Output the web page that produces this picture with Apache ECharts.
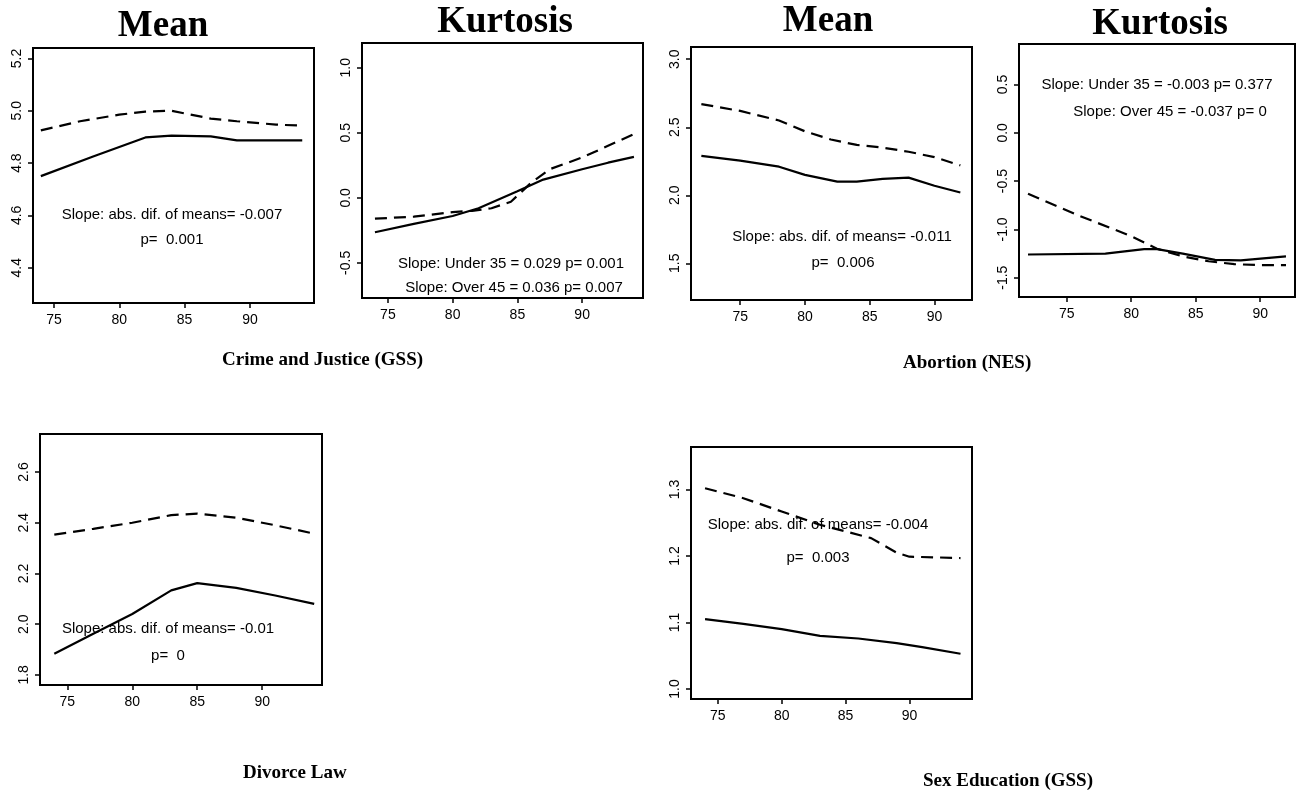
<!DOCTYPE html>
<html>
<head>
<meta charset="utf-8">
<script src="https://cdn.jsdelivr.net/npm/echarts@6/dist/echarts.min.js"></script>
<style>
html,body{margin:0;padding:0;background:#fff;}
#chart{width:1300px;height:796px;}
</style>
</head>
<body>
<div id="chart"></div>
<script>
// ---------- DATA ----------
const xTicks = [75, 80, 85, 90];

// Crime and Justice (GSS) - Mean
const crimeMeanSolidYears = [74, 78, 82, 84, 87, 89, 94];
const crimeMeanSolid = [4.75, 4.825, 4.898, 4.905, 4.902, 4.887, 4.887];
const crimeMeanDashYears = [74, 77, 80, 82, 84, 85, 87, 89, 92, 94];
const crimeMeanDash = [4.925, 4.96, 4.985, 4.997, 5.0, 4.99, 4.97, 4.96, 4.947, 4.943];
const crimeMeanTicks = [4.4, 4.6, 4.8, 5.0, 5.2];

// Crime and Justice (GSS) - Kurtosis
const crimeKurtSolidYears = [74, 77, 80, 82, 85, 87, 90, 92, 94];
const crimeKurtSolid = [-0.265, -0.2, -0.14, -0.08, 0.05, 0.14, 0.22, 0.27, 0.315];
const crimeKurtDashYears = [74, 77, 80, 81.5, 83, 84.5, 86, 87.5, 90, 92, 94];
const crimeKurtDash = [-0.16, -0.145, -0.11, -0.10, -0.08, -0.03, 0.11, 0.22, 0.31, 0.40, 0.49];
const crimeKurtTicks = [-0.5, 0.0, 0.5, 1.0];

// Abortion (NES) - Mean
const abortMeanSolidYears = [72, 75, 78, 80, 82.5, 84, 86, 88, 90, 92];
const abortMeanSolid = [2.29, 2.255, 2.21, 2.15, 2.10, 2.10, 2.12, 2.13, 2.07, 2.02];
const abortMeanDashYears = [72, 75, 78, 80, 82, 84, 86, 88, 90, 92];
const abortMeanDash = [2.67, 2.62, 2.55, 2.47, 2.41, 2.37, 2.35, 2.32, 2.28, 2.22];
const abortMeanTicks = [1.5, 2.0, 2.5, 3.0];

// Abortion (NES) - Kurtosis
const abortKurtSolidYears = [72, 78, 81, 82, 84, 86.5, 88.5, 92];
const abortKurtSolid = [-1.26, -1.25, -1.205, -1.205, -1.25, -1.315, -1.32, -1.28];
const abortKurtDashYears = [72, 76, 80, 82, 84, 86, 88, 90, 92];
const abortKurtDash = [-0.63, -0.86, -1.07, -1.20, -1.28, -1.33, -1.36, -1.37, -1.37];
const abortKurtTicks = [-1.5, -1.0, -0.5, 0.0, 0.5];

// Divorce Law - Mean
const divorceSolidYears = [74, 77, 80, 83, 85, 88, 91, 94];
const divorceSolid = [1.883, 1.962, 2.04, 2.133, 2.162, 2.143, 2.113, 2.08];
const divorceDashYears = [74, 77, 80, 83, 85, 88, 91, 94];
const divorceDash = [2.353, 2.376, 2.40, 2.43, 2.436, 2.42, 2.39, 2.357];
const divorceTicks = [1.8, 2.0, 2.2, 2.4, 2.6];

// Sex Education (GSS) - Mean
const sexSolidYears = [74, 77, 80, 83, 86, 89, 91, 94];
const sexSolid = [1.105, 1.098, 1.09, 1.08, 1.076, 1.069, 1.063, 1.053];
const sexDashYears = [74, 77, 80, 83, 85, 87, 89, 90, 92, 94];
const sexDash = [1.302, 1.287, 1.267, 1.247, 1.237, 1.227, 1.205, 1.199, 1.198, 1.197];
const sexTicks = [1.0, 1.1, 1.2, 1.3];

// Titles / captions / annotations
const panelTitles = ['Mean', 'Kurtosis', 'Mean', 'Kurtosis'];
const captions = ['Crime and Justice (GSS)', 'Abortion (NES)', 'Divorce Law', 'Sex Education (GSS)'];
const notes = [
  ['Slope: abs. dif. of means= -0.007', 'p=  0.001'],
  ['Slope: Under 35 = 0.029 p= 0.001', 'Slope: Over 45 = 0.036 p= 0.007'],
  ['Slope: abs. dif. of means= -0.011', 'p=  0.006'],
  ['Slope: Under 35 = -0.003 p= 0.377', 'Slope: Over 45 = -0.037 p= 0'],
  ['Slope: abs. dif. of means= -0.01', 'p=  0'],
  ['Slope: abs. dif. of means= -0.004', 'p=  0.003']
];

// ---------- BUILD ----------
const pairs = (xs, ys) => xs.map((x, i) => [x, ys[i]]);
const SANS = '"Liberation Sans", Arial, sans-serif';
const SERIF = '"Liberation Serif", "Times New Roman", serif';

const panels = [
  {grid: {left: 33, top: 48, width: 281, height: 255}, x: [73.4, 94.9], y: [4.265, 5.24], yt: crimeMeanTicks,
   s: pairs(crimeMeanSolidYears, crimeMeanSolid), d: pairs(crimeMeanDashYears, crimeMeanDash)},
  {grid: {left: 362, top: 43, width: 281, height: 255}, x: [73, 94.7], y: [-0.77, 1.19], yt: crimeKurtTicks,
   s: pairs(crimeKurtSolidYears, crimeKurtSolid), d: pairs(crimeKurtDashYears, crimeKurtDash)},
  {grid: {left: 691, top: 47, width: 281, height: 253}, x: [71.2, 92.9], y: [1.23, 3.09], yt: abortMeanTicks,
   s: pairs(abortMeanSolidYears, abortMeanSolid), d: pairs(abortMeanDashYears, abortMeanDash)},
  {grid: {left: 1019, top: 44, width: 276, height: 253}, x: [71.3, 92.7], y: [-1.70, 0.92], yt: abortKurtTicks,
   s: pairs(abortKurtSolidYears, abortKurtSolid), d: pairs(abortKurtDashYears, abortKurtDash)},
  {grid: {left: 40, top: 434, width: 282, height: 251}, x: [72.9, 94.6], y: [1.76, 2.75], yt: divorceTicks,
   s: pairs(divorceSolidYears, divorceSolid), d: pairs(divorceDashYears, divorceDash)},
  {grid: {left: 691, top: 447, width: 281, height: 252}, x: [72.9, 94.9], y: [0.985, 1.364], yt: sexTicks,
   s: pairs(sexSolidYears, sexSolid), d: pairs(sexDashYears, sexDash)}
];

const grid = [], xAxis = [], yAxis = [], series = [];
panels.forEach((p, i) => {
  grid.push(Object.assign({show: true, borderColor: '#000', borderWidth: 2, backgroundColor: '#fff', containLabel: false}, p.grid));
  xAxis.push({
    type: 'value', gridIndex: i, min: p.x[0], max: p.x[1], position: 'bottom',
    axisLine: {show: false, onZero: false}, splitLine: {show: false},
    axisTick: {show: true, inside: false, length: 5, lineStyle: {color: '#000', width: 1.5}, customValues: xTicks},
    axisLabel: {show: true, margin: 10, color: '#000', fontSize: 14, fontFamily: SANS, customValues: xTicks,
      formatter: v => String(v)}
  });
  yAxis.push({
    type: 'value', gridIndex: i, min: p.y[0], max: p.y[1], position: 'left',
    axisLine: {show: false, onZero: false}, splitLine: {show: false},
    axisTick: {show: true, inside: false, length: 5, lineStyle: {color: '#000', width: 1.5}, customValues: p.yt},
    axisLabel: {show: true, rotate: 90, margin: 9, color: '#000', fontSize: 14, fontFamily: SANS, customValues: p.yt,
      formatter: v => v.toFixed(1)}
  });
  series.push({
    type: 'line', xAxisIndex: i, yAxisIndex: i, data: p.s, showSymbol: false, symbol: 'none',
    lineStyle: {color: '#000', width: 2.2, type: 'solid'}, silent: true, animation: false
  });
  series.push({
    type: 'line', xAxisIndex: i, yAxisIndex: i, data: p.d, showSymbol: false, symbol: 'none',
    lineStyle: {color: '#000', width: 2.2, type: [12, 7]}, silent: true, animation: false
  });
});

const txt = (text, x, y, font, align) => ({
  type: 'text', x: x, y: y, silent: true,
  style: {text: text, fill: '#000', font: font, textAlign: align || 'center', textVerticalAlign: 'middle'}
});

const titleFont = 'bold 37px ' + SERIF;
const capFont = 'bold 19px ' + SERIF;
const noteFont = '15px ' + SANS;

const graphic = [
  txt(panelTitles[0], 163, 26, titleFont),
  txt(panelTitles[1], 505, 22, titleFont),
  txt(panelTitles[2], 828, 21, titleFont),
  txt(panelTitles[3], 1160, 24, titleFont),
  txt(captions[0], 222, 360, capFont, 'left'),
  txt(captions[1], 903, 363, capFont, 'left'),
  txt(captions[2], 243, 773, capFont, 'left'),
  txt(captions[3], 923, 781, capFont, 'left'),
  txt(notes[0][0], 172, 215, noteFont), txt(notes[0][1], 172, 240, noteFont),
  txt(notes[1][0], 511, 264, noteFont), txt(notes[1][1], 514, 288, noteFont),
  txt(notes[2][0], 842, 237, noteFont), txt(notes[2][1], 843, 263, noteFont),
  txt(notes[3][0], 1157, 85, noteFont), txt(notes[3][1], 1170, 112, noteFont),
  txt(notes[4][0], 168, 629, noteFont), txt(notes[4][1], 168, 656, noteFont),
  txt(notes[5][0], 818, 525, noteFont), txt(notes[5][1], 818, 558, noteFont)
];

const chart = echarts.init(document.getElementById('chart'), null, {renderer: 'canvas'});
chart.setOption({
  backgroundColor: '#fff',
  animation: false,
  grid: grid, xAxis: xAxis, yAxis: yAxis, series: series, graphic: graphic
});
</script>
</body>
</html>
